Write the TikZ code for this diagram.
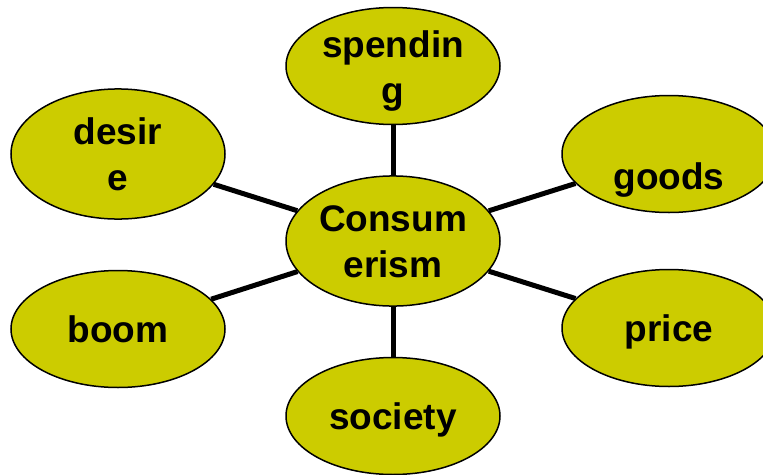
\documentclass[tikz,border=0pt]{standalone}
\usepackage{fontspec}
\setmainfont{Liberation Sans}
\usetikzlibrary{shapes.geometric}
\definecolor{olivefill}{RGB}{204,204,0}
\newcommand\lnstrut{\rule[-10pt]{0pt}{46pt}}
\begin{document}
\begin{tikzpicture}[x=1pt,y=-1pt,
  bubble/.style={ellipse, draw=black, line width=1.5pt, fill=olivefill,
    minimum width=214pt, minimum height=117pt, inner sep=0pt, align=center,
    font=\fontsize{37}{46}\selectfont\bfseries},
  bubbletext/.style={font=\fontsize{37}{46}\selectfont\bfseries, align=center, inner sep=0pt},
  spoke/.style={line width=5pt, draw=black}]
\useasboundingbox (0,0) rectangle (763,474);
\clip (0,0) rectangle (763,474);
\node[bubble] (center) at (393,241) {\lnstrut Consum\\\lnstrut erism};
\node[bubble, label={[bubbletext, yshift=-1pt]center:\lnstrut spendin\\\lnstrut g}] (spending) at (393,66) {};
\node[bubble] (desire) at (118,154) {\lnstrut desir\\\lnstrut e};
\node[bubble, label={[bubbletext, yshift=-22pt]center:\lnstrut goods}] (goods) at (669,154) {};
\node[bubble] (boom) at (118,329) {\lnstrut boom};
\node[bubble] (price) at (669,328) {\lnstrut price};
\node[bubble] (society) at (393,416) {\lnstrut society};
\foreach \n in {spending,desire,goods,boom,price,society}
  \draw[spoke] (center) -- (\n);
\end{tikzpicture}
\end{document}
